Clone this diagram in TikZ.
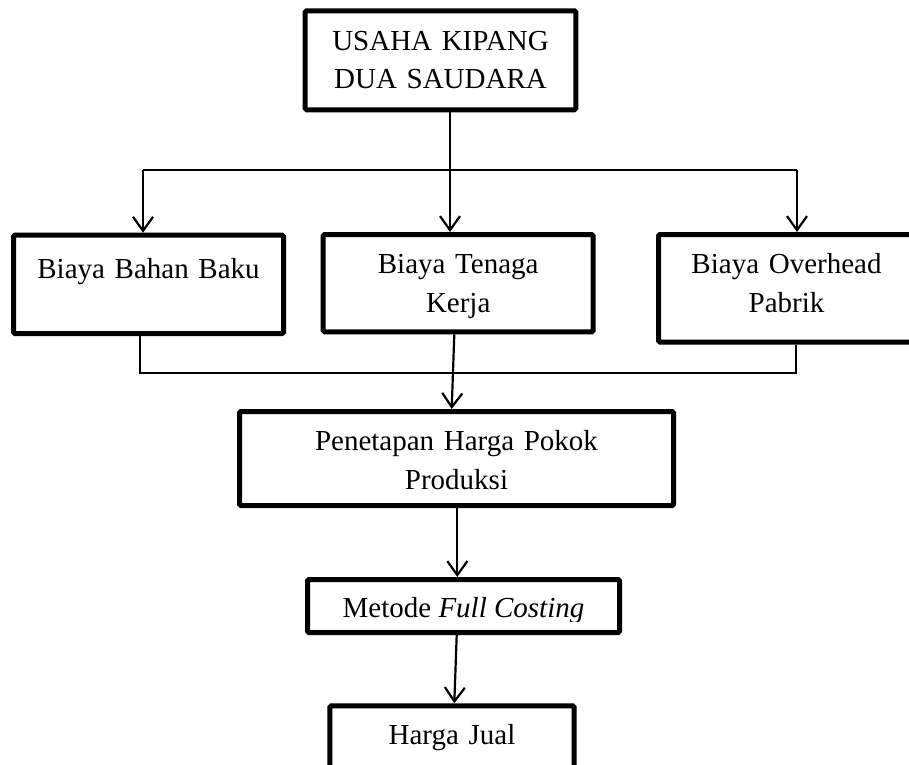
\documentclass[tikz,border=0pt]{standalone}
\usepackage{fontspec}
\setmainfont{Liberation Serif}
\usetikzlibrary{arrows.meta}
\begin{document}
\begin{tikzpicture}[x=1pt,y=-1pt,
  box/.style={draw, line width=5pt, rounded corners=1.5pt, inner sep=0pt, align=center,
    font=\fontsize{29}{38.8}\selectfont, anchor=north west},
  txt/.style={inner sep=0pt, font=\fontsize{29}{38.8}\selectfont, anchor=base},
  arr/.style={line width=2.2pt, -{Straight Barb[length=14pt,width=20pt]}},
  joinline/.style={line width=1.5pt},
  splitline/.style={line width=2pt}]
\useasboundingbox (0,0) rectangle (909,764);
\clip (0,0) rectangle (909,764);

\node[box, text width=270.6pt, text height=39.2pt, text depth=59.8pt] (top) at (302.7,8.3) {USAHA KIPANG\\DUA SAUDARA};
\node[box, text width=270pt, text height=43.1pt, text depth=55.2pt] (bbb) at (11,232.7) {Biaya Bahan Baku};
\node[box, text width=270pt, text height=38.8pt, text depth=58.5pt] (btk) at (320.7,232) {Biaya Tenaga\\Kerja};
\node[box, text width=256pt, text height=38.8pt, text depth=68.7pt] (bop) at (656,232) {Biaya Overhead\\Pabrik};
\node[box, text width=434pt, text height=39.2pt, text depth=54.8pt] (pen) at (237,409) {Penetapan Harga Pokok\\Produksi};
\node[box, text width=312pt, text height=37.8pt, text depth=15.2pt] (met) at (305,577) {};
\begin{scope}
  \clip (0,0) rectangle (909,621.7);
  \node[txt] (mettext) at (463.5,617.3) {Metode \textit{Full Costing}};
\end{scope}
\node[box, text width=244.4pt, text height=38.2pt, text depth=40pt] (hj) at (327.3,703.3) {Harga Jual};

% top split
\coordinate (jl) at (143,170);
\coordinate (jr) at (797,170);
\coordinate (jc) at (450,170);
\draw[splitline] (jl) -- (jr);
\draw[arr] (top.south -| jc) -- (btk.north -| jc);
\draw[arr] (jl) -- (bbb.north -| jl);
\draw[arr] (jr) -- (bop.north -| jr);

% bottom join
\coordinate (bl) at (140,373);
\coordinate (br) at (796,373);
\draw[joinline] (bbb.south -| bl) -- (bl) -- (br) -- (bop.south -| br);

\coordinate (s1) at (454.3,0);
\coordinate (s2) at (451.7,0);
\draw[arr] (btk.south -| s1) -- (pen.north -| s2);
\coordinate (s3) at (457.3,0);
\draw[arr] (pen.south -| s3) -- (met.north -| s3);
\coordinate (s4) at (456.7,0);
\coordinate (s5) at (454.3,0);
\draw[arr] (met.south -| s4) -- (hj.north -| s5);
\end{tikzpicture}
\end{document}
